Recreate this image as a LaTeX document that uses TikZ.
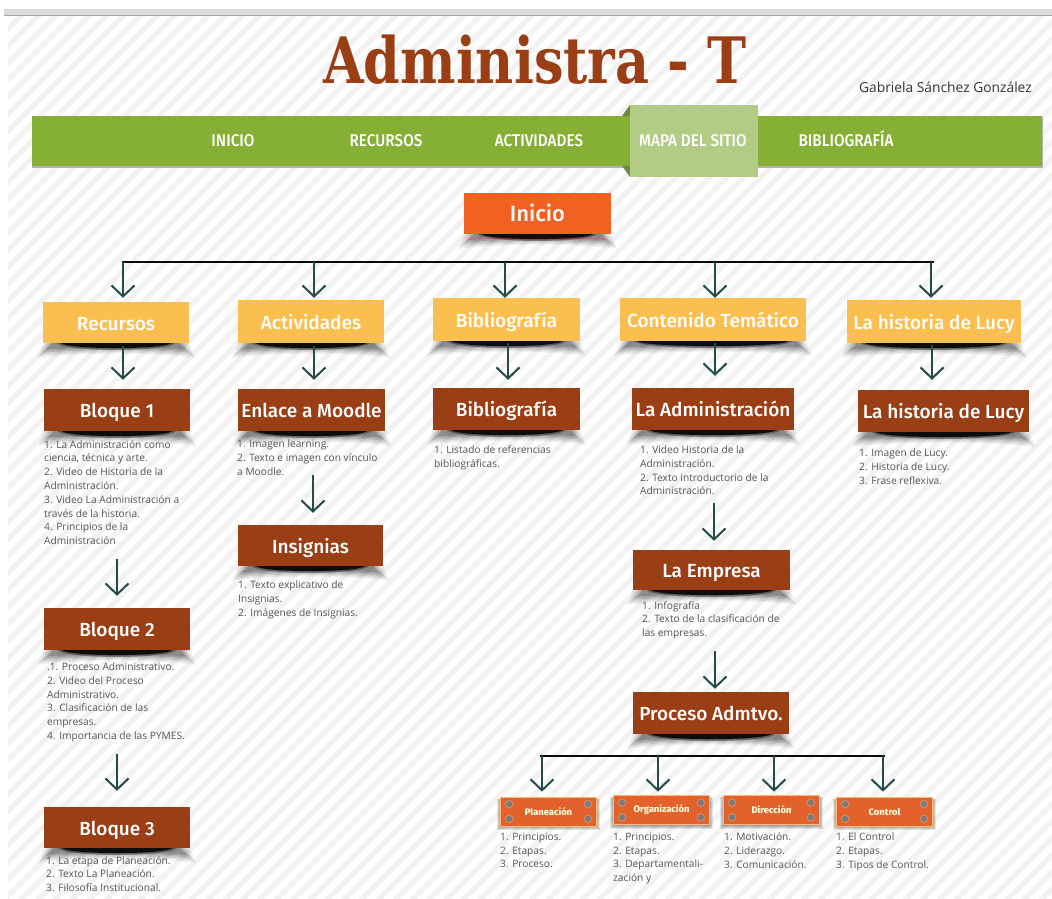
\documentclass[tikz,border=0pt]{standalone}
\usepackage{fontspec}
\setmainfont{Open Sans}
\newfontfamily\headf{Fira Sans}[UprightFont=* Medium]
\newfontfamily\navf{Fira Sans}[UprightFont=* Medium]
\newfontfamily\titlef{DejaVu Serif}[BoldFont=* Bold]
\usetikzlibrary{arrows.meta,calc}
\definecolor{navgreen}{HTML}{86B035}
\definecolor{navactive}{HTML}{B3CC85}
\definecolor{navdark}{HTML}{6F8A45}
\definecolor{brownbox}{HTML}{9A3E16}
\definecolor{yellowbox}{HTML}{FBBF4F}
\definecolor{orangebox}{HTML}{F26122}
\definecolor{smallbox}{HTML}{E3612A}
\definecolor{rivetring}{HTML}{D08E6E}
\definecolor{arrowcol}{HTML}{234B49}
\definecolor{textcol}{HTML}{555555}
\definecolor{stripe}{HTML}{F2F2F2}
\tikzset{
  headbox/.style={anchor=center,inner sep=0pt,text=white,text height=15.5pt,text depth=0pt,font=\headf\fontsize{19}{22}\selectfont},
  yellowhead/.style={headbox,fill=yellowbox},
  brownhead/.style={headbox,fill=brownbox},
  smallhead/.style={anchor=center,inner sep=0pt,fill=smallbox,draw=orange!55!white,line width=.7pt,text=white!85!yellow,
     minimum width=96pt,minimum height=29pt,font=\headf\bfseries\fontsize{9.4}{11}\selectfont},
  arr/.style={draw=arrowcol,line width=2pt,-{Straight Barb[length=11pt,width=23pt,line width=2pt]}},
  bus/.style={draw=black!85!arrowcol,line width=2pt},
  listing/.style={anchor=north west,inner sep=0pt,align=left,text=textcol,font=\fontsize{10.2}{13.8}\selectfont},
  navitem/.style={anchor=center,inner sep=0pt,text=white,text height=12pt,text depth=0pt,font=\navf\fontsize{17}{18}\selectfont},
}
\newcommand{\undershadow}[1]{%
  \foreach \k/\o in {12/.05,10/.06,8/.08,6/.10,4/.12,2/.14}{%
    \fill[black,opacity=\o]
      ($(#1.south west)+(12-\k,0)$) -- ($(#1.south east)+(\k-12,0)$)
      .. controls ($(#1.south east)+(\k-10,3)$) and ($(#1.south east)+(\k-7,4+\k)$) ..
      ($(#1.south east)+(\k-5,4+\k*.9)$)
      .. controls ($(#1.south east)+(-45,3+\k*.5)$) and ($(#1.south west)+(45,3+\k*.5)$) ..
      ($(#1.south west)+(5-\k,4+\k*.9)$)
      .. controls ($(#1.south west)+(7-\k,4+\k)$) and ($(#1.south west)+(10-\k,3)$) ..
      cycle;
  }%
  \fill[black,opacity=.35] ($(#1.south west)+(14,0)$) -- ($(#1.south east)+(-14,0)$)
     .. controls ($(#1.south east)+(-24,9)$) and ($(#1.south west)+(24,9)$) .. cycle;
  \fill[black,opacity=.85] ($(#1.south west)+(18,0)$) -- ($(#1.south east)+(-18,0)$)
     .. controls ($(#1.south east)+(-28,6.5)$) and ($(#1.south west)+(28,6.5)$) .. cycle;
}
\newcommand{\softshadow}[1]{%
  \foreach \k in {4,3,2,1}{%
    \fill[black,opacity=.1] ($(#1.north west)+(-\k+1,2)$) rectangle ($(#1.south east)+(\k-1,\k)$);
  }%
}
\newcommand{\rivets}[1]{%
  \foreach \sx/\sy/\dx/\dy in {west/north/9/7.5,west/south/9/-7.5,east/north/-9/7.5,east/south/-9/-7.5}{%
    \fill[rivetring] ($(#1.\sy\space\sx)+(\dx,\dy)$) circle (4.2pt);
    \fill[black!52] ($(#1.\sy\space\sx)+(\dx,\dy)$) circle (3.1pt);
  }%
}
% #1 bus coordinate, #2 target node, #3 horizontal offset, #4 gap above the target
\newcommand{\busdrop}[4]{\draw[arr,shorten >=#4pt] ([xshift=#3pt]#2.north |- #1) -- ([xshift=#3pt]#2.north);}
% #1 upper node, #2 lower node, #3 horizontal offset, #4 gap at start, #5 gap at end
\newcommand{\stepdown}[5]{\draw[arr,shorten <=#4pt,shorten >=#5pt] ([xshift=#3pt]#1.south) -- ([xshift=#3pt]#1.south |- #2.north);}
\begin{document}
\begin{tikzpicture}[x=1pt,y=-1pt]
\useasboundingbox (0,0) rectangle (1052,898);
\fill[white] (0,0) rectangle (1052,898);
% page stripes
\begin{scope}
\clip (8,16) rectangle (1052,898);
\foreach \i in {0,...,115}{%
  \draw[stripe,line width=5pt] ({\i*17-900},920) -- ({\i*17+20},0);
}
\end{scope}
\fill[black!14] (4,9) rectangle (1052,15);
\fill[black!35] (4,15) rectangle (1052,16);
% title
\node[inner sep=0pt,anchor=base,text=brownbox] (title) at (535,83)
  {\scalebox{.82}[1]{\titlef\bfseries\fontsize{64}{68}\selectfont Administra - T}};
\node[inner sep=0pt,anchor=east,text=black!80,font=\fontsize{13.8}{15}\selectfont] (author) at (1032,87) {Gabriela Sánchez González};
% nav bar
\fill[black!30] (32,117) rectangle (1043,168);
\node[fill=navgreen,inner sep=0pt,minimum width=1010pt,minimum height=50pt] (nav) at (537,141) {};
\fill[navdark] (622,116) -- (630,105) -- (630,116) -- cycle;
\fill[navdark] (622,166) -- (630,177) -- (630,166) -- cycle;
\node[fill=navactive,inner sep=0pt,minimum width=128pt,minimum height=72pt] (active) at (694,141) {};
\node[navitem] (n1) at (233,140) {\scalebox{.9}[1]{INICIO}};
\node[navitem] (n2) at (386,140) {\scalebox{.9}[1]{RECURSOS}};
\node[navitem] (n3) at (539,140) {\scalebox{.9}[1]{ACTIVIDADES}};
\node[navitem] (n4) at (693,140) {\scalebox{.9}[1]{MAPA DEL SITIO}};
\node[navitem] (n5) at (846,140) {\scalebox{.9}[1]{BIBLIOGRAFÍA}};
% top box
\node[headbox,fill=orangebox,minimum width=147pt,minimum height=41pt,font=\headf\fontsize{22}{24}\selectfont] (inicio) at (537.5,213.5) {Inicio};
% yellow row
\node[yellowhead,minimum width=146pt,minimum height=41pt] (recursos) at (116,322.5) {Recursos};
\node[yellowhead,minimum width=146pt,minimum height=43pt] (activ) at (311,321.5) {Actividades};
\node[yellowhead,minimum width=147pt,minimum height=43pt] (biblio) at (506.5,319.5) {Bibliografía};
\node[yellowhead,minimum width=186pt,minimum height=43pt] (conten) at (713,319.5) {Contenido Temático};
\node[yellowhead,minimum width=174pt,minimum height=43pt] (lucy) at (934,321.5) {La historia de Lucy};
% brown boxes
\node[brownhead,minimum width=146pt,minimum height=42pt] (b1) at (117,410) {Bloque 1};
\node[brownhead,minimum width=146pt,minimum height=42pt] (b2) at (117,629) {Bloque 2};
\node[brownhead,minimum width=146pt,minimum height=41pt] (b3) at (117,827.5) {Bloque 3};
\node[brownhead,minimum width=147pt,minimum height=42pt] (moodle) at (311.5,410) {Enlace a Moodle};
\node[brownhead,minimum width=145pt,minimum height=41pt] (insig) at (310.5,545.5) {Insignias};
\node[brownhead,minimum width=147pt,minimum height=42pt] (biblio2) at (506.5,409) {Bibliografía};
\node[brownhead,minimum width=162pt,minimum height=42pt] (admin) at (713,409) {La Administración};
\node[brownhead,minimum width=157pt,minimum height=40pt] (empresa) at (711.5,570) {La Empresa};
\node[brownhead,minimum width=156pt,minimum height=42pt] (proceso) at (711,713) {Proceso Admtvo.};
\node[brownhead,minimum width=171pt,minimum height=42pt] (lucy2) at (943.5,411) {La historia de Lucy};
% shadows
\foreach \n in {inicio,recursos,activ,biblio,conten,lucy,b1,b2,b3,moodle,insig,biblio2,admin,empresa,proceso,lucy2}{\undershadow{\n}}
% small boxes
\coordinate (pc) at (548.5,811.5);
\coordinate (oc) at (661.5,810);
\coordinate (dc) at (771.5,810);
\coordinate (cc) at (884.5,811.5);
\node[minimum width=96pt,minimum height=29pt,inner sep=0pt] (ps) at (pc) {};
\node[minimum width=96pt,minimum height=29pt,inner sep=0pt] (os) at (oc) {};
\node[minimum width=96pt,minimum height=29pt,inner sep=0pt] (ds) at (dc) {};
\node[minimum width=96pt,minimum height=29pt,inner sep=0pt] (cs) at (cc) {};
\foreach \n in {ps,os,ds,cs}{\softshadow{\n}}
\node[smallhead] (plan) at (pc) {Planeación};
\node[smallhead] (org) at (oc) {Organización};
\node[smallhead] (dir) at (dc) {Dirección};
\node[smallhead] (ctrl) at (cc) {Control};
\foreach \n in {plan,org,dir,ctrl}{\rivets{\n}}
% lists
\node[listing] (t1) at (44,440) {1. La Administración como\\ciencia, técnica y arte.\\2. Video de Historia de la\\Administración.\\3. Video  La Administración a\\través de la historia.\\4. Principios de la\\Administración};
\node[listing] (t2) at (47,662.5) {.1. Proceso Administrativo.\\2. Video del Proceso\\Administrativo.\\3. Clasificación de las\\empresas.\\4. Importancia de las PYMES.};
\node[listing] (t3) at (46,856) {1. La etapa de Planeación.\\2. Texto La Planeación.\\3. Filosofía Institucional.};
\node[listing] (t4) at (237,440) {1. Imagen learning.\\2. Texto e imagen con vínculo\\a Moodle.};
\node[listing] (t5) at (238,580.5) {1. Texto explicativo de\\Insignias.\\2. Imágenes de Insignias.};
\node[listing] (t6) at (434,445.5) {1. Listado de referencias\\bibliográficas.};
\node[listing] (t7) at (640,445.5) {1. Video Historia de la\\Administración.\\2. Texto introductorio de la\\Administración.};
\node[listing] (t8) at (642,601) {1. Infografía\\2. Texto de la clasificación de\\las empresas.};
\node[listing] (t9) at (859,448.5) {1. Imagen de Lucy.\\2. Historia de Lucy.\\3. Frase reflexiva.};
\node[listing] (t10) at (500,832.5) {1. Principios.\\2. Etapas.\\3. Proceso.};
\node[listing] (t11) at (613,832.5) {1. Principios.\\2. Etapas.\\3. Departamentali-\\zación y};
\node[listing] (t12) at (724,832.5) {1. Motivación.\\2. Liderazgo.\\3. Comunicación.};
\node[listing] (t13) at (836,832.5) {1. El Control\\2. Etapas.\\3. Tipos de Control.};
% main bus
\coordinate (busL) at (122,262);
\coordinate (busR) at (934,262);
\draw[bus] (busL) -- (busR);
\busdrop{busL}{recursos}{7}{4}
\busdrop{busL}{activ}{3}{2}
\busdrop{busL}{biblio}{-1.5}{0}
\busdrop{busL}{conten}{2}{0}
\busdrop{busL}{lucy}{-3}{2}
% second bus
\coordinate (bus2L) at (540,756);
\coordinate (bus2R) at (885,756);
\draw[bus] (bus2L) -- (bus2R);
\busdrop{bus2L}{plan}{-6.5}{5}
\busdrop{bus2L}{org}{-3.5}{3.5}
\busdrop{bus2L}{dir}{2.5}{3.5}
\busdrop{bus2L}{ctrl}{-1.5}{5}
% vertical connectors
\stepdown{recursos}{b1}{7}{3}{9}
\stepdown{activ}{moodle}{3}{3}{9}
\stepdown{biblio}{biblio2}{1.5}{2}{8}
\stepdown{conten}{admin}{2}{2}{12}
\stepdown{lucy}{lucy2}{-2}{2}{10}
\stepdown{b1}{b2}{0}{128}{12}
\stepdown{b2}{b3}{0}{104}{16}
\stepdown{moodle}{insig}{1.5}{44}{12}
\stepdown{admin}{empresa}{1}{73}{9}
\stepdown{empresa}{proceso}{3.5}{61}{3}
\end{tikzpicture}
\end{document}
